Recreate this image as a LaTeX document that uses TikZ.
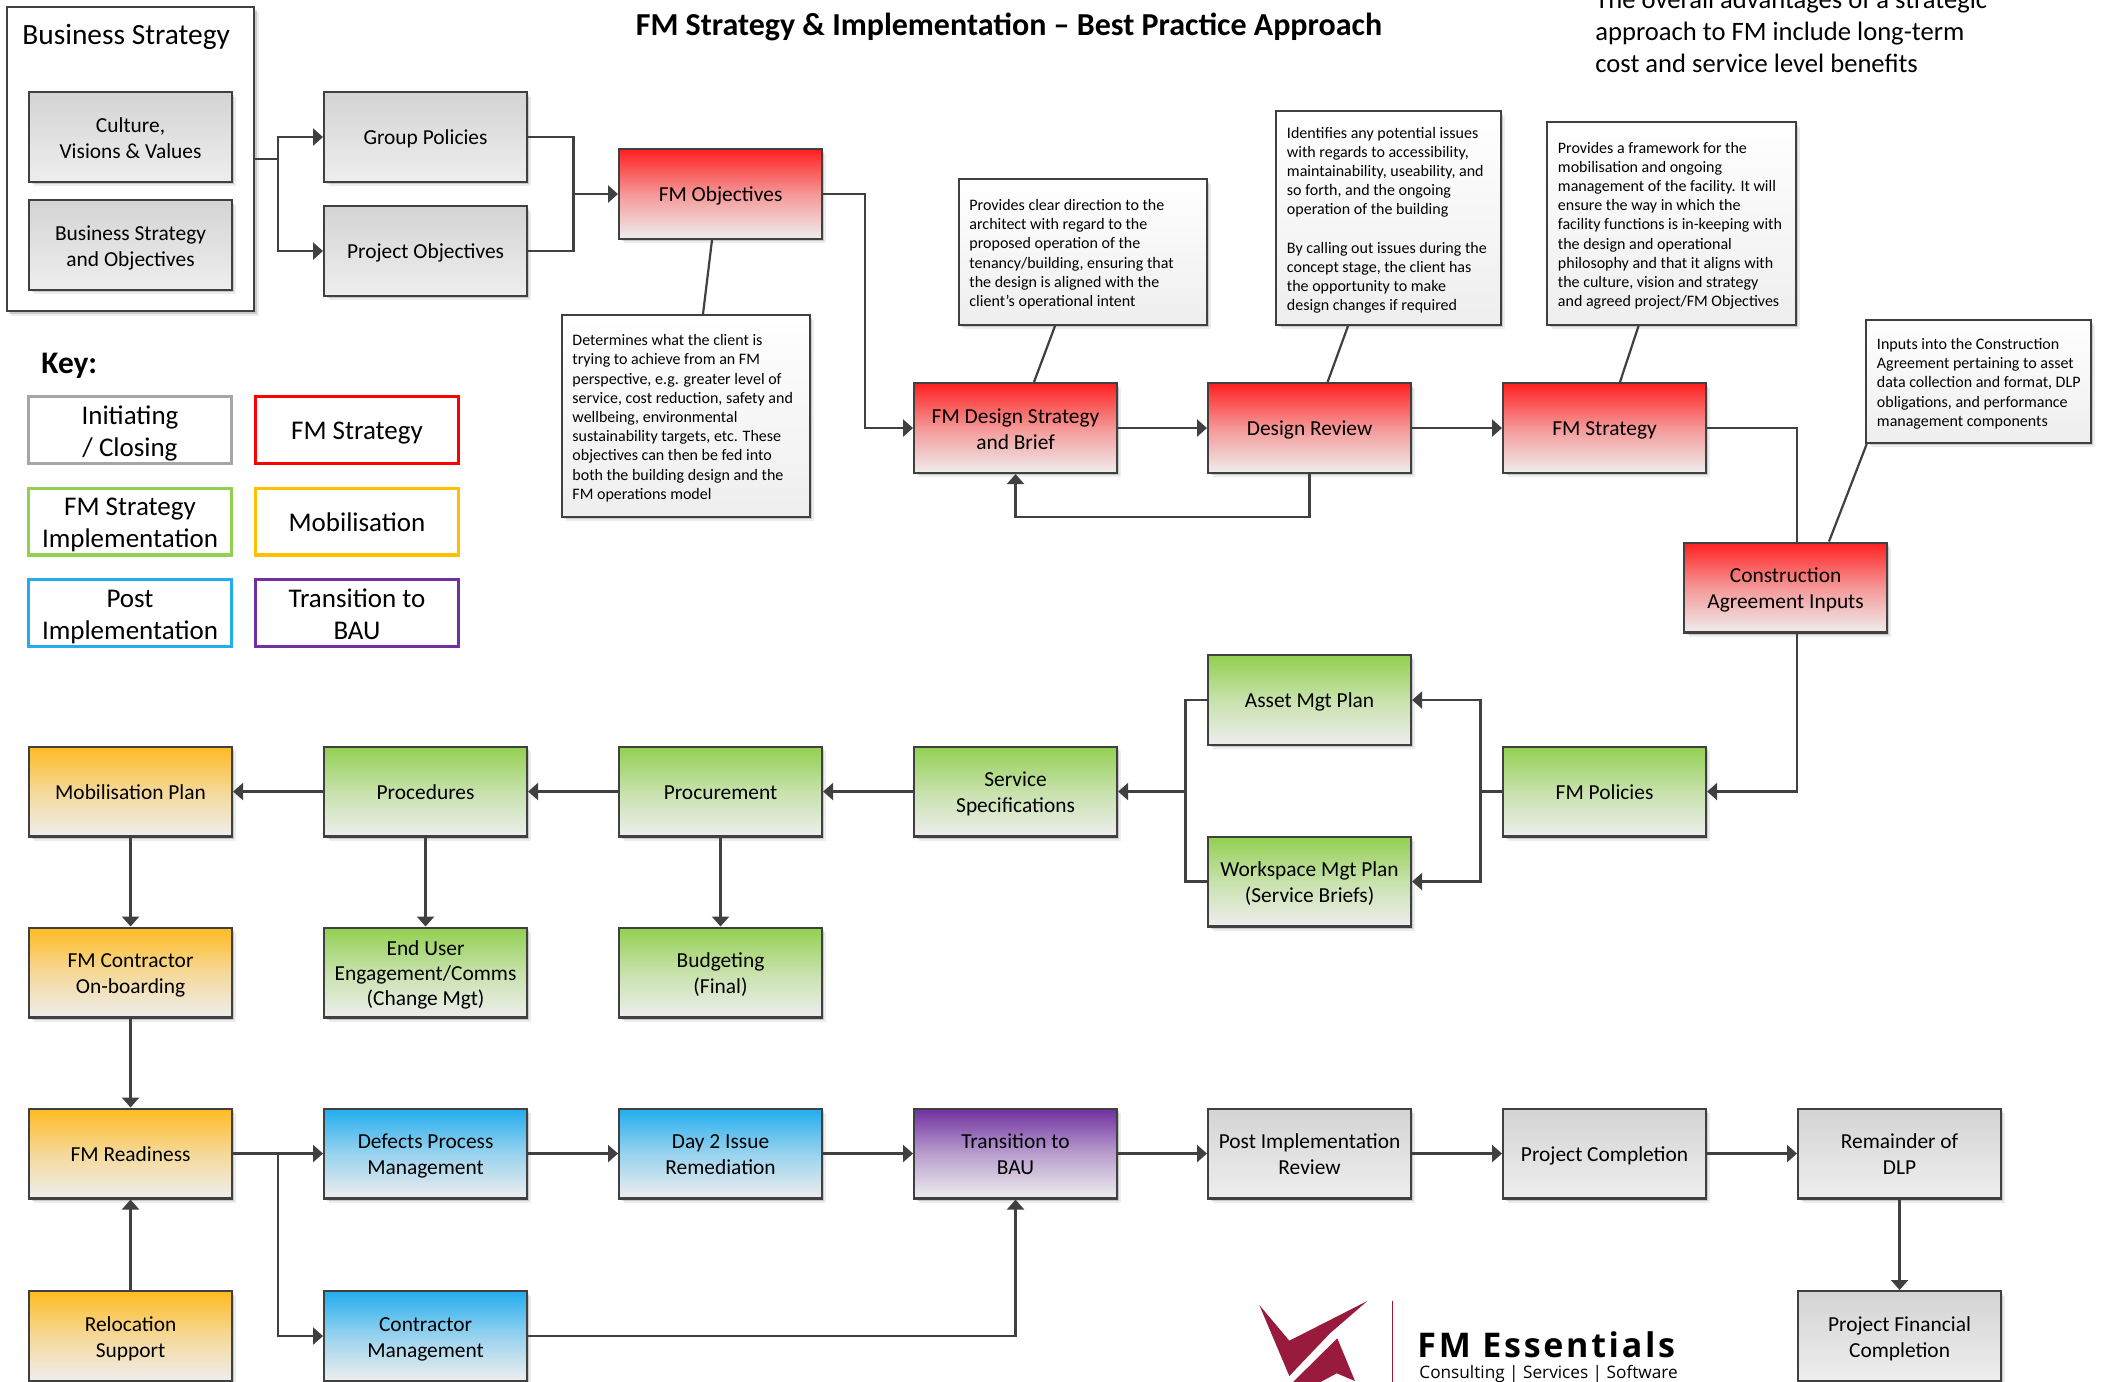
\documentclass[tikz,border=0pt]{standalone}
\usepackage{fontspec}
\setmainfont{Carlito}
\newfontfamily\logofont[LetterSpace=8]{Open Sans}
\newfontfamily\logosub{Open Sans}
\usetikzlibrary{arrows.meta,shadows,calc}
\definecolor{ink}{HTML}{404040}
\definecolor{fade}{HTML}{EEEEEE}
\definecolor{cgrey}{HTML}{D4D4D4}
\definecolor{cred}{HTML}{FF2020}
\definecolor{cgreen}{HTML}{92D050}
\definecolor{corange}{HTML}{FFC000}
\definecolor{cfillorange}{HTML}{FFBB22}
\definecolor{cblue}{HTML}{22ADEE}
\definecolor{cpurple}{HTML}{7030A0}
\definecolor{logored}{HTML}{981B3E}
\newcommand\notetext[2]{\makebox[#1][l]{\hspace{5.4pt}\begin{tabular}{@{}l@{}}\rule{0pt}{9.42pt}#2\end{tabular}}}
\newcommand\boxup{\rule{0pt}{12pt}}
\newcommand\keylines[1]{\raisebox{-0.55pt}[0pt][0pt]{\begin{tabular}{@{}c@{}}#1\end{tabular}}}
\tikzset{
 softshadow/.style={general shadow={shadow xshift=2.2pt,shadow yshift=-2.2pt,fill=black,opacity=.07},
   general shadow={shadow xshift=1.2pt,shadow yshift=-1.2pt,fill=black,opacity=.15}},
 boxbase/.style={draw=ink,line width=1.15pt,anchor=north west,align=center,softshadow,inner sep=0pt,
   text=black,font=\fontsize{10.7}{13}\selectfont},
 stdbox/.style={boxbase,minimum width=101.4pt,minimum height=44.9pt,
   execute at begin node={\rule{0pt}{11.8pt}},execute at end node={\rule[-3.9pt]{0pt}{3.9pt}}},
 greybox/.style={stdbox,top color=cgrey,bottom color=fade},
 redbox/.style={stdbox,top color=cred,bottom color=fade,middle color=cred!42!fade},
 greenbox/.style={stdbox,top color=cgreen,bottom color=fade,middle color=cgreen!42!fade},
 orangebox/.style={stdbox,top color=cfillorange,bottom color=fade,middle color=cfillorange!42!fade},
 bluebox/.style={stdbox,top color=cblue,bottom color=fade,middle color=cblue!42!fade},
 purplebox/.style={stdbox,top color=cpurple,bottom color=fade,middle color=cpurple!42!fade},
 notebox/.style={boxbase,top color=white,bottom color=fade,align=left,
   font=\fontsize{8}{9.6}\selectfont},
 keybox/.style={anchor=north west,align=center,line width=1.6pt,fill=white,inner sep=0pt,
   minimum width=101.4pt,minimum height=33.4pt,text=black,font=\fontsize{13.5}{16}\selectfont,
   execute at begin node={\rule{0pt}{14.5pt}},execute at end node={\rule[-4.8pt]{0pt}{4.8pt}}},
 conn/.style={draw=ink,line width=1.3pt},
 arrow/.style={conn,-{Triangle[length=5pt,width=8.5pt]}},
 link/.style={draw=ink,line width=1.1pt},
}
\begin{document}
\begin{tikzpicture}[x=0.5pt,y=-0.5pt]
\useasboundingbox (0,0) rectangle (2103,1381);
\fill[white] (0,0) rectangle (2103,1381);
\clip (0,0) rectangle (2103,1381);

% Title and free text
\node[font=\fontsize{16}{20}\bfseries\selectfont] (title) at (1009,27) {FM Strategy \& Implementation -- Best Practice Approach};
\node[anchor=north west,align=left,inner sep=0pt,font=\fontsize{13.3}{16}\selectfont] (adv) at (1595,-10.5)
 {The overall advantages of a strategic\\approach to FM include long-term\\cost and service level benefits};

% Business strategy group
\node[boxbase,fill=white,minimum width=123.8pt,minimum height=152pt] (outer) at (5.5,6) {};
\node[anchor=west,inner sep=0pt,font=\fontsize{14.7}{16}\selectfont] (bstitle) at (22,36.5) {Business Strategy};
\node[greybox] (culture) at (28,91) {\boxup Culture,\\Visions \& Values};
\node[greybox] (bizstrat) at (28,199) {\boxup Business Strategy\\and Objectives};
\node[greybox] (group) at (323,91) {Group Policies};
\node[greybox] (project) at (323,205) {Project Objectives};
\node[redbox] (fmobj) at (618,148) {FM Objectives};

% Key
\node[anchor=west,inner sep=0pt,font=\fontsize{15.7}{18}\bfseries\selectfont] (keytitle) at (41,365.5) {Key:};
\node[keybox,draw=black!35] (k1) at (27,395) {\keylines{Initiating\\/ Closing}};
\node[keybox,draw=red] (k2) at (254,395) {FM Strategy};
\node[keybox,draw=cgreen] (k3) at (27,486.5) {\keylines{FM Strategy\\Implementation}};
\node[keybox,draw=corange] (k4) at (254,486.5) {Mobilisation};
\node[keybox,draw=cblue] (k5) at (27,578) {\keylines{Post\\Implementation}};
\node[keybox,draw=cpurple] (k6) at (254,578) {\keylines{Transition to\\BAU}};

% Notes
\node[notebox,minimum width=124pt,minimum height=100.8pt] (n1) at (560.5,314) {\notetext{124pt}{Determines what the client is\\trying to achieve from an FM\\perspective, e.g. greater level of\\service, cost reduction, safety and\\wellbeing, environmental\\sustainability targets, etc. These\\objectives can then be fed into\\both the building design and the\\FM operations model}};
\node[notebox,minimum width=124pt,minimum height=72.8pt] (n2) at (957.5,178) {\notetext{124pt}{Provides clear direction to the\\architect with regard to the\\proposed operation of the\\tenancy/building, ensuring that\\the design is aligned with the\\client’s operational intent}};
\node[notebox,minimum width=112.3pt,minimum height=106.8pt] (n3) at (1275,110) {\notetext{112.3pt}{Identifies any potential issues\\with regards to accessibility,\\maintainability, useability, and\\so forth, and the ongoing\\operation of the building\\[9.6pt]By calling out issues during the\\concept stage, the client has\\the opportunity to make\\design changes if required}};
\node[notebox,minimum width=124.3pt,minimum height=101.3pt] (n4) at (1546,121) {\notetext{124.3pt}{Provides a framework for the\\mobilisation and ongoing\\management of the facility. It will\\ensure the way in which the\\facility functions is in-keeping with\\the design and operational\\philosophy and that it aligns with\\the culture, vision and strategy\\and agreed project/FM Objectives}};
\node[notebox,minimum width=112.3pt,minimum height=61.3pt] (n5) at (1865,319) {\notetext{112.3pt}{Inputs into the Construction\\Agreement pertaining to asset\\data collection and format, DLP\\obligations, and performance\\management components}};

% Strategy row
\node[redbox] (design) at (913,382) {\boxup FM Design Strategy\\and Brief};
\node[redbox] (review) at (1207,382) {Design Review};
\node[redbox] (strategy) at (1502,382) {FM Strategy};
\node[redbox] (inputs) at (1683,541.5) {\boxup Construction\\Agreement Inputs};

% Implementation rows
\node[greenbox] (asset) at (1207,654) {Asset Mgt Plan};
\node[greenbox] (workspace) at (1207,835.5) {\boxup Workspace Mgt Plan\\(Service Briefs)};
\node[greenbox] (policies) at (1502,745.5) {FM Policies};
\node[greenbox] (service) at (913,745.5) {\boxup Service\\Specifications};
\node[greenbox] (procurement) at (618,745.5) {Procurement};
\node[greenbox] (procedures) at (323,745.5) {Procedures};
\node[orangebox] (mobplan) at (28,745.5) {Mobilisation Plan};
\node[orangebox] (contractor) at (28,926.5) {\boxup FM Contractor\\On-boarding};
\node[greenbox,font=\fontsize{10.7}{12.4}\selectfont] (enduser) at (323,926.5) {\boxup End User\\Engagement/Comms\\(Change Mgt)};
\node[greenbox] (budget) at (618,926.5) {\boxup Budgeting\\(Final)};

% Lower rows
\node[orangebox] (readiness) at (28,1107.5) {FM Readiness};
\node[bluebox] (defects) at (323,1107.5) {\boxup Defects Process\\Management};
\node[bluebox] (day2) at (618,1107.5) {\boxup Day 2 Issue\\Remediation};
\node[purplebox] (transition) at (913,1107.5) {\boxup Transition to\\BAU};
\node[greybox] (postimpl) at (1207,1107.5) {\boxup Post Implementation\\Review};
\node[greybox] (completion) at (1502,1107.5) {Project Completion};
\node[greybox] (remainder) at (1797,1107.5) {\boxup Remainder of\\DLP};
\node[orangebox] (relocation) at (28,1290) {\boxup Relocation\\Support};
\node[bluebox] (ctrmgmt) at (323,1290) {\boxup Contractor\\Management};
\node[greybox] (financial) at (1797,1290) {\boxup Project Financial\\Completion};

% Junctions
\coordinate (j1) at ($(outer.east)+(22.7,0)$);
\coordinate (j2) at ($(fmobj.west)+(-44.5,0)$);
\coordinate (j3) at ($(fmobj.east)+(42,0)$);
\coordinate (j4) at (strategy.east -| remainder.west);
\coordinate (j5) at ($(policies.west)+(-21.5,0)$);
\coordinate (j6) at ($(service.east)+(67.5,0)$);
\coordinate (j7) at ($(readiness.east)+(45,0)$);
\coordinate (j8) at ($(review.south)+(0,43)$);
\coordinate (j9) at (j8 -| design.south);
\coordinate (j10) at (ctrmgmt.east -| transition.south);

% Connectors
\draw[conn] (outer.east) -- (j1);
\draw[arrow] (j1) |- (group.west);
\draw[arrow] (j1) |- (project.west);
\draw[conn] (group.east) -| (j2);
\draw[conn] (project.east) -| (j2);
\draw[arrow] (j2) -- (fmobj.west);
\draw[arrow] (fmobj.east) -- (j3) |- (design.west);
\draw[arrow] (design.east) -- (review.west);
\draw[arrow] (review.east) -- (strategy.west);
\draw[arrow] (review.south) -- (j8) -- (j9) -- (design.south);
\draw[conn] (strategy.east) -- (j4) -- (j4 |- inputs.north);
\draw[arrow] (inputs.south -| j4) |- (policies.east);
\draw[conn] (policies.west) -- (j5);
\draw[arrow] (j5) |- (asset.east);
\draw[arrow] (j5) |- (workspace.east);
\draw[conn] (asset.west) -| (j6);
\draw[conn] (workspace.west) -| (j6);
\draw[arrow] (j6) -- (service.east);
\draw[arrow] (service.west) -- (procurement.east);
\draw[arrow] (procurement.west) -- (procedures.east);
\draw[arrow] (procedures.west) -- (mobplan.east);
\draw[arrow] (mobplan.south) -- (contractor.north);
\draw[arrow] (contractor.south) -- (readiness.north);
\draw[arrow] (relocation.north) -- (readiness.south);
\draw[arrow] (procedures.south) -- (enduser.north);
\draw[arrow] (procurement.south) -- (budget.north);
\draw[arrow] (readiness.east) -- (defects.west);
\draw[arrow] (j7) |- (ctrmgmt.west);
\draw[arrow] (defects.east) -- (day2.west);
\draw[arrow] (day2.east) -- (transition.west);
\draw[arrow] (transition.east) -- (postimpl.west);
\draw[arrow] (postimpl.east) -- (completion.west);
\draw[arrow] (completion.east) -- (remainder.west);
\draw[arrow] (ctrmgmt.east) -- (j10) -- (transition.south);
\draw[arrow] (remainder.south) -- (financial.north);

% Note links
\coordinate (l1a) at (712,240); \coordinate (l1b) at (703,314);
\coordinate (l2a) at (1034,382); \coordinate (l2b) at (1055,326);
\coordinate (l3a) at (1327.6,382); \coordinate (l3b) at (1348,326);
\coordinate (l4a) at (1620,382); \coordinate (l4b) at (1638.5,326);
\coordinate (l5a) at (1829,541.5); \coordinate (l5b) at (1866.7,444);
\draw[link] (l1a) -- (l1b);
\draw[link] (l2a) -- (l2b);
\draw[link] (l3a) -- (l3b);
\draw[link] (l4a) -- (l4b);
\draw[link] (l5a) -- (l5b);

% Logo
\fill[logored] (1259.3,1305) -- (1289.3,1340.7) -- (1367.3,1301) -- (1330,1333.3) -- (1289.3,1376) -- cycle;
\fill[logored] (1337.3,1338.3) -- (1355,1381) -- (1336.7,1373.3) -- (1315,1385) -- (1290,1385) -- cycle;
\draw[logored,line width=0.7pt] (1392.5,1300.5) -- (1392.5,1385);
\node[anchor=west,inner sep=0pt,font=\logofont\fontsize{17}{20}\bfseries\selectfont] (fme) at (1417,1345) {FM Essentials};
\node[anchor=west,inner sep=0pt,font=\logosub\fontsize{8.6}{11}\selectfont] (fmes) at (1419,1373.5) {Consulting | Services | Software};
\end{tikzpicture}
\end{document}
